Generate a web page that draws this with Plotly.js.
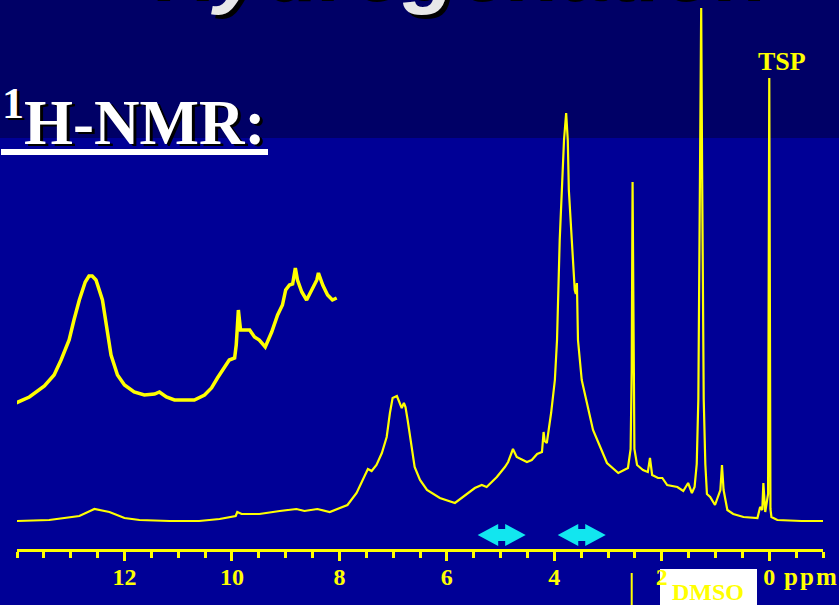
<!DOCTYPE html>
<html><head><meta charset="utf-8">
<script src="https://cdn.plot.ly/plotly-3.0.1.min.js"></script>
<style>html,body{margin:0;padding:0;background:#000096;overflow:hidden}</style>
</head><body><div id="chart" style="width:839px;height:605px"></div>
<script>
// 1H-NMR spectrum (chemical shift in ppm, intensity in arbitrary units)
const spectrumPpm = [14.0, 13.40, 12.84, 12.56, 12.28, 12.00, 11.72, 11.16, 10.61, 10.23, 9.93, 9.90, 9.82, 9.49, 9.11, 8.80, 8.65, 8.41, 8.18, 8.00,
  7.85, 7.68, 7.57, 7.47, 7.40, 7.31, 7.21, 7.12, 7.06, 7.01, 6.93, 6.84, 6.80, 6.77, 6.73, 6.65, 6.60, 6.50, 6.37, 6.13, 5.85,
  5.48, 5.35, 5.26, 5.07, 4.92, 4.86, 4.77, 4.70, 4.51, 4.42, 4.32, 4.23, 4.20, 4.18, 4.14, 4.06, 3.99, 3.95, 3.90, 3.86, 3.82, 3.78,
  3.75, 3.73, 3.67, 3.62, 3.60, 3.58, 3.56, 3.49, 3.28, 3.15, 3.02, 2.81, 2.63, 2.58, 2.56, 2.544, 2.526, 2.51, 2.46, 2.35, 2.26,
  2.22, 2.18, 2.07, 1.99, 1.90, 1.71, 1.60, 1.51, 1.44, 1.39, 1.35, 1.32, 1.29, 1.267, 1.25, 1.22, 1.19, 1.16, 1.10, 1.01, 0.91,
  0.88, 0.85, 0.78, 0.67, 0.48, 0.22, 0.17, 0.13, 0.11, 0.075, 0.04, 0.022, 0.0, -0.022, -0.04, -0.15, -0.60, -1.0];
const spectrumIntensity = [28, 29, 33, 40, 37, 31, 29, 28, 28, 30, 33, 37, 35, 35, 38, 40, 38, 40, 37, 41,
  44, 56, 69, 80, 78, 84, 96, 112, 136, 151, 153, 141, 146, 142, 129, 102, 82, 69, 59, 51, 46,
  61, 64, 62, 72, 82, 87, 100, 92, 87, 89, 95, 97, 117, 108, 106, 136, 169, 209, 309, 359, 409, 436,
  409, 359, 309, 259, 255, 266, 209, 169, 119, 102, 86, 76, 81, 100, 180, 367, 180, 100, 84, 79, 77,
  91, 74, 71, 71, 64, 62, 58, 66, 56, 62, 85, 150, 380, 541, 380, 150, 85, 55, 52, 44, 59,
  84, 59, 39, 35, 32, 31, 42, 39, 66, 37, 49, 55, 471, 40, 32, 29, 28, 28];

// vertically expanded trace of the 14 - 8 ppm region
const insetPpm = [14.02, 13.77, 13.49, 13.31, 13.18, 13.03, 12.94, 12.84, 12.73, 12.66, 12.60, 12.53, 12.41, 12.32, 12.25, 12.13, 12.00,
  11.82, 11.63, 11.44, 11.35, 11.22, 11.07, 10.89, 10.70, 10.51, 10.38, 10.27, 10.14, 10.05, 9.95, 9.92, 9.88, 9.84, 9.79, 9.67,
  9.58, 9.49, 9.38, 9.26, 9.15, 9.06, 9.00, 8.93, 8.87, 8.82, 8.78, 8.70, 8.61, 8.52, 8.42, 8.39, 8.31, 8.22, 8.13, 8.05];
const insetIntensity = [146, 152, 163, 174, 189, 209, 229, 249, 267, 273, 273, 269, 249, 219, 194, 174, 164,
  157, 154, 155, 157, 152, 149, 149, 149, 154, 161, 171, 181, 189, 191, 204, 239, 219, 219, 219,
  212, 209, 202, 217, 234, 244, 259, 264, 265, 281, 269, 257, 249, 259, 269, 276, 264, 254, 249, 251];

const tickValues = [12, 10, 8, 6, 4, 2, 0];
const tickLabels = ['12', '10', '8', '6', '4', '2', '0'];
const arrowCenters = [4.98, 3.49];   // ppm, cyan double arrows
const dmsoMarkPpm = 2.56;
const tspLabel = 'TSP';
const dmsoLabel = 'DMSO';
const unitLabel = 'p\u200Ap\u200Am';

const W = 839, H = 605, L = 17, R = 16, B = 56;
const PW = W - L - R, PH = H - B;
const px = x => (x - L) / PW;          // page pixel -> paper x
const py = y => (PH - y) / PH;         // page pixel -> paper y

const YEL = '#ffff00', CYAN = '#12e6ef';
const serif = 'Liberation Serif, Times New Roman, serif';
const sans = 'Liberation Sans, Arial, sans-serif';

const traces = [
  {x: spectrumPpm, y: spectrumIntensity, type: 'scatter', mode: 'lines',
   line: {color: YEL, width: 2.2}, hoverinfo: 'skip'},
  {x: insetPpm, y: insetIntensity, type: 'scatter', mode: 'lines',
   line: {color: YEL, width: 3.5}, hoverinfo: 'skip'}
];

const arrowShapes = arrowCenters.map(c => {
  const t = 0.447, b = 0.065;
  return {type: 'path', xref: 'x', yref: 'y', layer: 'above',
    path: `M${c+t},14 L${c+b},25 L${c+b},20 L${c-b},20 L${c-b},25 L${c-t},14 L${c-b},3 L${c-b},8 L${c+b},8 L${c+b},3 Z`,
    fillcolor: CYAN, line: {width: 0}};
});

const shapes = [
  {type: 'rect', xref: 'paper', yref: 'paper', layer: 'below', x0: px(-5), x1: px(W + 5), y0: py(138), y1: py(-5),
   fillcolor: '#000066', line: {width: 0}},
  {type: 'rect', xref: 'paper', yref: 'paper', layer: 'below', x0: px(660), x1: px(757), y0: py(610), y1: py(569),
   fillcolor: '#ffffff', line: {width: 0}},
  {type: 'rect', xref: 'paper', yref: 'paper', layer: 'above', x0: px(1), x1: px(268), y0: py(155), y1: py(149),
   fillcolor: '#ffffff', line: {width: 0}},
  {type: 'line', xref: 'x', yref: 'paper', x0: dmsoMarkPpm, x1: dmsoMarkPpm, y0: py(610), y1: py(573),
   line: {color: YEL, width: 2}},
  ...arrowShapes
];

const annotations = [
  // cut-off slide title
  {xref: 'paper', yref: 'paper', x: px(154), y: py(21), xanchor: 'left', yanchor: 'bottom', showarrow: false,
   text: 'Hydrogenation', font: {family: sans, size: 87, weight: 'bold', style: 'italic', color: '#000000'}},
  {xref: 'paper', yref: 'paper', x: px(150), y: py(17), xanchor: 'left', yanchor: 'bottom', showarrow: false,
   text: 'Hydrogenation', font: {family: sans, size: 87, weight: 'bold', style: 'italic', color: '#e8e8e8'}},
  // 1H-NMR heading with shadow
  {xref: 'paper', yref: 'paper', x: px(3), y: py(121), xanchor: 'left', yanchor: 'middle', showarrow: false,
   text: '<sup>1</sup>H-NMR:', font: {family: serif, size: 63, weight: 'bold', color: '#000000'}},
  {xref: 'paper', yref: 'paper', x: px(0), y: py(118), xanchor: 'left', yanchor: 'middle', showarrow: false,
   text: '<sup>1</sup>H-NMR:', font: {family: serif, size: 63, weight: 'bold', color: '#ffffff'}},
  {xref: 'x', yref: 'paper', x: -0.24, y: py(61), xanchor: 'center', yanchor: 'middle', showarrow: false,
   text: tspLabel, font: {family: serif, size: 26, weight: 'bold', color: YEL}},
  {xref: 'paper', yref: 'paper', x: px(708), y: py(592), xanchor: 'center', yanchor: 'middle', showarrow: false,
   text: dmsoLabel, font: {family: serif, size: 24, weight: 'bold', color: YEL}},
  {xref: 'paper', yref: 'paper', x: px(810), y: py(576), xanchor: 'center', yanchor: 'middle', showarrow: false,
   text: unitLabel, font: {family: serif, size: 25, weight: 'bold', color: YEL}}
];

const layout = {
  width: W, height: H, autosize: false,
  margin: {l: L, r: R, t: 0, b: B, pad: 0},
  paper_bgcolor: '#000096', plot_bgcolor: 'rgba(0,0,0,0)',
  showlegend: false,
  xaxis: {range: [14, -1], showgrid: false, zeroline: false, showline: true, linecolor: YEL, linewidth: 3,
    tickmode: 'array', tickvals: tickValues, ticktext: tickLabels, ticks: 'outside', ticklen: 9, tickwidth: 3,
    tickcolor: YEL, tickfont: {family: serif, size: 24, weight: 'bold', color: YEL}, ticklabelstandoff: -5,
    minor: {tickmode: 'linear', tick0: 0, dtick: 0.5, ticks: 'outside', ticklen: 6, tickwidth: 3, tickcolor: YEL, showgrid: false},
    fixedrange: true},
  yaxis: {range: [0, PH], visible: false, fixedrange: true},
  shapes: shapes,
  annotations: annotations
};

Plotly.newPlot('chart', traces, layout, {displayModeBar: false, staticPlot: true});
</script>
</body></html>
